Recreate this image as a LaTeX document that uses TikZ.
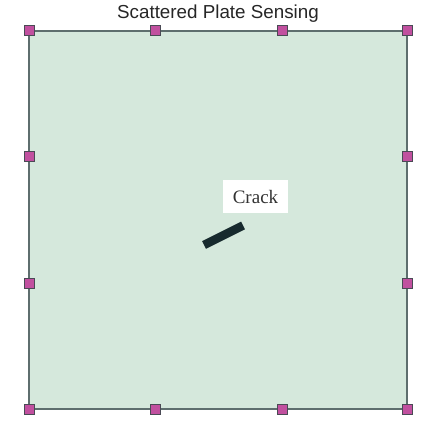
\documentclass[tikz,border=0pt]{standalone}
\usepackage{fontspec}
\setmainfont{Liberation Serif}
\newfontfamily\titlefont{Liberation Sans}
\definecolor{platefill}{HTML}{D5E8DC}
\definecolor{plateedge}{HTML}{5E6E6E}
\definecolor{sensorfill}{HTML}{C1509F}
\definecolor{sensoredge}{HTML}{4A4A55}
\definecolor{crackcol}{HTML}{172A2E}
\tikzset{
  sensor/.style={draw=sensoredge, fill=sensorfill, line width=1pt, minimum size=10pt, inner sep=0pt, rectangle},
  plate/.style={draw=plateedge, fill=platefill, line width=1.6pt},
  labelbox/.style={fill=white, inner sep=0pt, minimum width=65pt, minimum height=33pt, font=\fontsize{19}{21}\selectfont, text=black!80}
}
\begin{document}
\begin{tikzpicture}[x=1pt,y=-1pt]
\useasboundingbox (0,0) rectangle (433,427);
\coordinate (p1) at (29,31);
\coordinate (p3) at (407,409);
\draw[plate] (p1) rectangle (p3);
\node[font=\titlefont\fontsize{18.8}{21}\selectfont, text=black!85] (title) at (218,13.5) {Scattered Plate Sensing};
\foreach \i/\x in {0/29,1/155,2/282,3/407}{
  \node[sensor] (t\i) at (\x,31) {};
  \node[sensor] (b\i) at (\x,409) {};
}
\foreach \i/\y in {1/157,2/283}{
  \node[sensor] (l\i) at (29,\y) {};
  \node[sensor] (r\i) at (407,\y) {};
}
\coordinate (c1) at (204,245);
\coordinate (c2) at (243,225.5);
\draw[crackcol, line width=8.5pt] (c1) -- (c2);
\node[labelbox] (crack) at (255.5,197) {Crack};
\end{tikzpicture}
\end{document}
